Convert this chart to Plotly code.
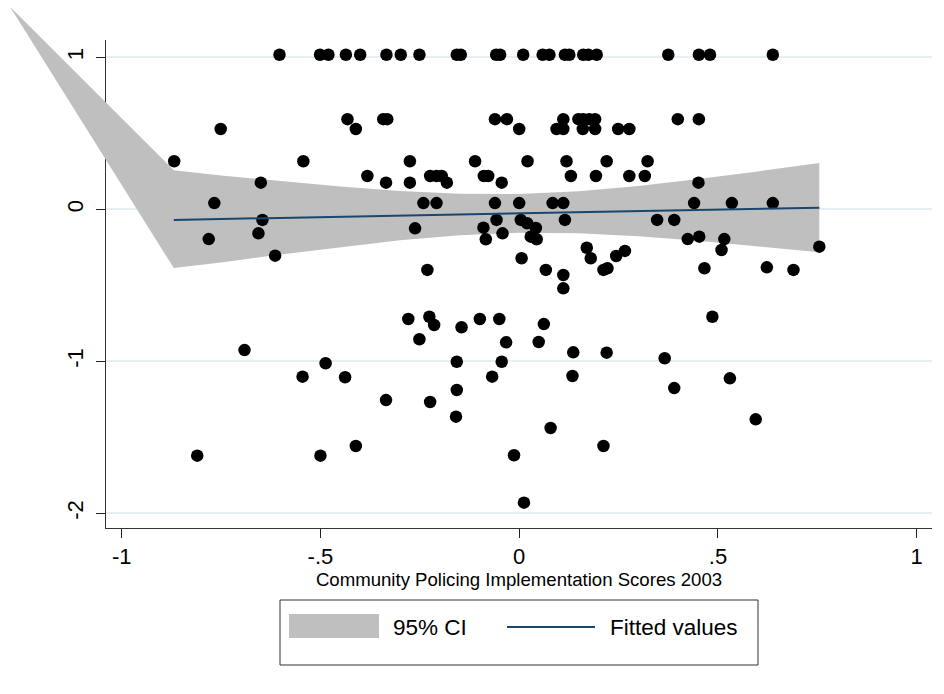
import plotly.graph_objects as go

W, H = 944, 694

# Community policing implementation score (x) against the outcome (y)
score = [
    -0.603, -0.501, -0.480, -0.436, -0.400, -0.334, -0.298, -0.251, -0.157, -0.147,
    -0.058, -0.048, 0.010, 0.059, 0.076, 0.115, 0.126, 0.161, 0.174, 0.195,
    0.375, 0.452, 0.480, 0.638,
    -0.432, -0.342, -0.332, -0.061, -0.031, 0.111, 0.149, 0.161, 0.176, 0.191, 0.399, 0.452,
    -0.751, -0.411, 0.000, 0.094, 0.111, 0.160, 0.191, 0.249, 0.277,
    -0.868, -0.543, -0.275, -0.111, 0.021, 0.119, 0.220, 0.323,
    -0.382, -0.224, -0.208, -0.195, -0.089, -0.078, 0.130, 0.193, 0.277, 0.316,
    -0.650, -0.335, -0.275, -0.182, -0.044, 0.451,
    -0.767, -0.241, -0.208, -0.061, 0.000, 0.084, 0.111, 0.440, 0.535, 0.638,
    -0.646, -0.057, 0.004, 0.115, 0.347, 0.390,
    0.020, 0.042, 0.029, 0.044, -0.262, -0.090, -0.656, -0.042,
    -0.781, -0.084, 0.424, 0.516, 0.453,
    0.170, 0.755, 0.266, 0.509,
    -0.614, 0.244, 0.006, 0.180,
    -0.231, 0.067, 0.212, 0.222, 0.466, 0.623, 0.690,
    0.111, 0.111,
    -0.279, -0.226, -0.214, -0.251, -0.145, -0.099, -0.050, -0.033, 0.062, 0.049, 0.486,
    -0.691, 0.136, 0.220, 0.366,
    -0.487, -0.157, -0.044,
    -0.545, -0.438, -0.068, 0.134, 0.530,
    -0.157, 0.390,
    -0.335, -0.224,
    -0.159, 0.595,
    0.079,
    -0.411, 0.212,
    -0.810, -0.500, -0.013,
    0.012,
]
outcome = [
    1.017, 1.017, 1.017, 1.017, 1.017, 1.017, 1.017, 1.017, 1.017, 1.017,
    1.017, 1.017, 1.017, 1.017, 1.017, 1.017, 1.017, 1.017, 1.017, 1.017,
    1.017, 1.017, 1.017, 1.017,
    0.593, 0.593, 0.593, 0.593, 0.593, 0.593, 0.593, 0.593, 0.593, 0.593, 0.593, 0.593,
    0.528, 0.528, 0.528, 0.528, 0.528, 0.528, 0.528, 0.528, 0.528,
    0.316, 0.316, 0.316, 0.316, 0.316, 0.316, 0.316, 0.316,
    0.219, 0.219, 0.219, 0.219, 0.219, 0.219, 0.219, 0.219, 0.219, 0.219,
    0.175, 0.175, 0.175, 0.175, 0.175, 0.175,
    0.041, 0.041, 0.041, 0.041, 0.041, 0.041, 0.041, 0.041, 0.041, 0.041,
    -0.070, -0.070, -0.070, -0.070, -0.070, -0.070,
    -0.092, -0.123, -0.180, -0.197, -0.125, -0.121, -0.158, -0.158,
    -0.196, -0.197, -0.196, -0.196, -0.180,
    -0.253, -0.246, -0.274, -0.268,
    -0.305, -0.307, -0.322, -0.322,
    -0.399, -0.399, -0.399, -0.388, -0.388, -0.382, -0.399,
    -0.432, -0.520,
    -0.722, -0.707, -0.761, -0.855, -0.776, -0.722, -0.722, -0.875, -0.755, -0.873, -0.707,
    -0.926, -0.941, -0.943, -0.980,
    -1.013, -1.003, -1.003,
    -1.101, -1.105, -1.101, -1.097, -1.112,
    -1.189, -1.176,
    -1.255, -1.268,
    -1.364, -1.382,
    -1.439,
    -1.557, -1.557,
    -1.621, -1.621, -1.618,
    -1.930,
]

# Linear fit and its 95% confidence band
fit_x = [-0.869, 0.755]
fit_y = [-0.070, 0.011]
ci_x = [-0.869, -0.75, -0.6, -0.45, -0.3, -0.15, 0.0, 0.15, 0.3, 0.45, 0.6, 0.755]
ci_upper = [0.257, 0.222, 0.184, 0.150, 0.121, 0.102, 0.100, 0.119, 0.154, 0.199, 0.249, 0.304]
ci_lower = [-0.387, -0.350, -0.297, -0.248, -0.204, -0.170, -0.154, -0.157, -0.177, -0.207, -0.242, -0.282]
ci_origin = (-1.281, 1.333)

x_ticks = [-1, -0.5, 0, 0.5, 1]
x_ticklabels = ["-1", "-.5", "0", ".5", "1"]
y_ticks = [-2, -1, 0, 1]
y_ticklabels = ["-2", "-1", "0", "1"]
x_title = "Community Policing Implementation Scores 2003"
legend_labels = ["95% CI", "Fitted values"]

# ---- geometry (pixels) ----
X0, XU = 519.2, 397.5      # pixel of x=0, pixels per unit
Y0, YU = 209.3, 152.0      # pixel of y=0, pixels per unit
PL, PR, PT, PB = 106, 932, 40, 528   # plot region edges


def xr(px):
    return (px - X0) / XU


def yr(py):
    return (Y0 - py) / YU


FONT = "Liberation Sans, Arial, sans-serif"
BAND = "#BFBFBF"
NAVY = "#1A476F"

fig = go.Figure()

# axes-only subplot (drawn first, below the data)
fig.add_trace(go.Scatter(x=[None], y=[None], xaxis="x", yaxis="y",
                         showlegend=False, hoverinfo="skip"))

band_x = [ci_origin[0]] + ci_x + ci_x[::-1] + [ci_origin[0]]
band_y = [ci_origin[1]] + ci_upper + ci_lower[::-1] + [ci_origin[1]]
fig.add_trace(go.Scatter(x=band_x, y=band_y, xaxis="x2", yaxis="y2",
                         mode="lines", fill="toself", fillcolor=BAND,
                         line=dict(width=0, color=BAND), showlegend=False,
                         hoverinfo="skip"))
fig.add_trace(go.Scatter(x=score, y=outcome, xaxis="x2", yaxis="y2",
                         mode="markers", showlegend=False,
                         marker=dict(color="black", size=12.5, line=dict(width=0))))
fig.add_trace(go.Scatter(x=fit_x, y=fit_y, xaxis="x2", yaxis="y2",
                         mode="lines", showlegend=False,
                         line=dict(color=NAVY, width=2)))

fig.update_layout(
    template="none",
    width=W, height=H, autosize=False,
    margin=dict(l=0, r=0, t=0, b=0, pad=0),
    paper_bgcolor="white", plot_bgcolor="rgba(0,0,0,0)",
    font=dict(family=FONT, color="black"),
    xaxis=dict(domain=[PL / W, PR / W], range=[xr(PL), xr(PR)], anchor="y",
               tickmode="array", tickvals=x_ticks, ticktext=x_ticklabels,
               ticks="outside", ticklen=9, tickwidth=1, tickcolor="#222",
               showline=True, linecolor="#333", linewidth=1,
               showgrid=False, zeroline=False, automargin=False,
               tickfont=dict(size=22, family=FONT),
               title=dict(text=x_title, font=dict(size=18.6, family=FONT), standoff=1)),
    yaxis=dict(domain=[1 - PB / H, 1 - PT / H], range=[yr(PB), yr(PT)], anchor="x",
               tickmode="array", tickvals=y_ticks, ticktext=y_ticklabels,
               ticks="outside", ticklen=9, tickwidth=1, tickcolor="#222",
               tickangle=-90, ticklabelstandoff=4,
               showline=True, linecolor="#333", linewidth=1,
               showgrid=True, gridcolor="#E6EEF1", gridwidth=1.5,
               zeroline=False, automargin=False,
               tickfont=dict(size=22, family=FONT)),
    xaxis2=dict(domain=[0, 1], range=[xr(0), xr(W)], anchor="y2", visible=False,
                automargin=False),
    yaxis2=dict(domain=[0, 1], range=[yr(H), yr(0)], anchor="x2", visible=False,
                automargin=False),
    showlegend=False,
)


def px_x(px):
    return px / W


def px_y(py):
    return 1 - py / H


# legend box
fig.add_shape(type="rect", xref="paper", yref="paper",
              x0=px_x(280), x1=px_x(758), y0=px_y(665), y1=px_y(600),
              line=dict(color="#333", width=1), fillcolor="white", layer="above")
fig.add_shape(type="rect", xref="paper", yref="paper",
              x0=px_x(289), x1=px_x(379), y0=px_y(638), y1=px_y(614),
              line=dict(width=0), fillcolor=BAND, layer="above")
fig.add_shape(type="line", xref="paper", yref="paper",
              x0=px_x(507), x1=px_x(595), y0=px_y(627), y1=px_y(627),
              line=dict(color=NAVY, width=2), layer="above")
fig.add_annotation(x=px_x(391), y=px_y(627), xref="paper", yref="paper",
                   text=legend_labels[0], showarrow=False, xanchor="left",
                   yanchor="middle", font=dict(size=22.5, family=FONT))
fig.add_annotation(x=px_x(608), y=px_y(627), xref="paper", yref="paper",
                   text=legend_labels[1], showarrow=False, xanchor="left",
                   yanchor="middle", font=dict(size=22.5, family=FONT))

fig.write_html("out.html")
